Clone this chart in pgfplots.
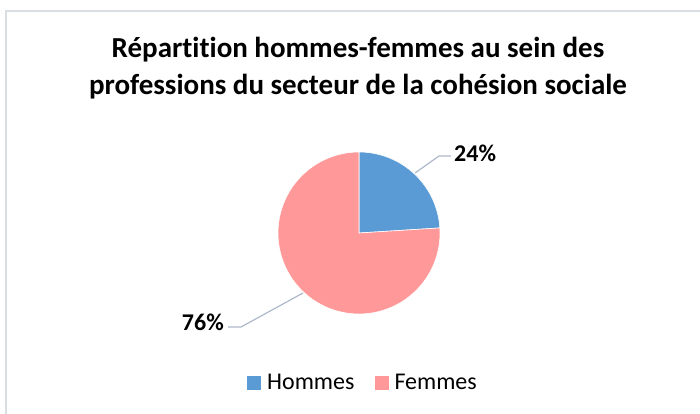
\documentclass[border=0pt]{standalone}
\usepackage{pgfplots}
\usepackage{pgfplotstable}
\pgfplotsset{compat=1.18}
\usepackage{fontspec}
\setmainfont{Carlito}[Ligatures=NoCommon]

\definecolor{hommes}{RGB}{91,155,213}
\definecolor{femmes}{RGB}{255,153,153}
\definecolor{leader}{RGB}{173,185,202}
\definecolor{cadre}{RGB}{217,222,228}

% part en %
\pgfplotstableread{
serie   valeur
Hommes  24
Femmes  76
}\parts
\pgfplotstablegetelem{0}{valeur}\of\parts \let\vH\pgfplotsretval
\pgfplotstablegetelem{1}{valeur}\of\parts \let\vF\pgfplotsretval

\begin{document}
\begin{tikzpicture}
\useasboundingbox (0,0) rectangle (700pt,414pt);
\pgfmathsetmacro\aH{90-3.6*\vH} % fin de la part Hommes (sens horaire depuis midi)
\begin{axis}[
  at={(0,0)}, anchor=south west,
  width=700pt, height=414pt, scale only axis,
  xmin=0, xmax=700, ymin=0, ymax=414, y dir=reverse,
  hide axis, clip=false,
  legend columns=2,
  legend style={draw=none, fill=none, at={(axis cs:363,383)}, anchor=center,
    font=\fontsize{24}{26}\selectfont,
    /tikz/every odd column/.append style={column sep=4pt},
    /tikz/every even column/.append style={column sep=18pt}},
  legend cell align=left,
  legend image code/.code={\fill[#1,draw=none] (0pt,-7pt) rectangle (14pt,7pt);},
]
\addplot[fill=hommes, draw=white, line width=0.6pt, domain=\aH:90, samples=60, variable=\t]
  ({359+81*cos(t)}, {233-81*sin(t)}) -- (axis cs:359,233) -- cycle;
\addlegendentry{Hommes}
\addplot[fill=femmes, draw=white, line width=0.6pt, domain=-270:\aH, samples=150, variable=\t]
  ({359+81*cos(t)}, {233-81*sin(t)}) -- (axis cs:359,233) -- cycle;
\addlegendentry{Femmes}

% cadre
\draw[cadre, line width=1.2pt] (axis cs:6,414) -- (axis cs:6,11) -- (axis cs:700,11);
% titre
\node[align=center, font=\fontsize{29}{37}\selectfont\bfseries] at (axis cs:358,68)
  {Répartition hommes-femmes au sein des\\professions du secteur de la cohésion sociale};
% étiquettes
\draw[leader, line width=1.2pt] (axis cs:415,173) -- (axis cs:439,156) -- (axis cs:451,156);
\node[anchor=west, font=\fontsize{24}{26}\selectfont\bfseries, inner sep=0pt] at (axis cs:454,153) {24\%};
\draw[leader, line width=1.2pt] (axis cs:303,293) -- (axis cs:241,327) -- (axis cs:228,327);
\node[anchor=east, font=\fontsize{24}{26}\selectfont\bfseries, inner sep=0pt] at (axis cs:224,322) {76\%};
\end{axis}
\end{tikzpicture}
\end{document}
